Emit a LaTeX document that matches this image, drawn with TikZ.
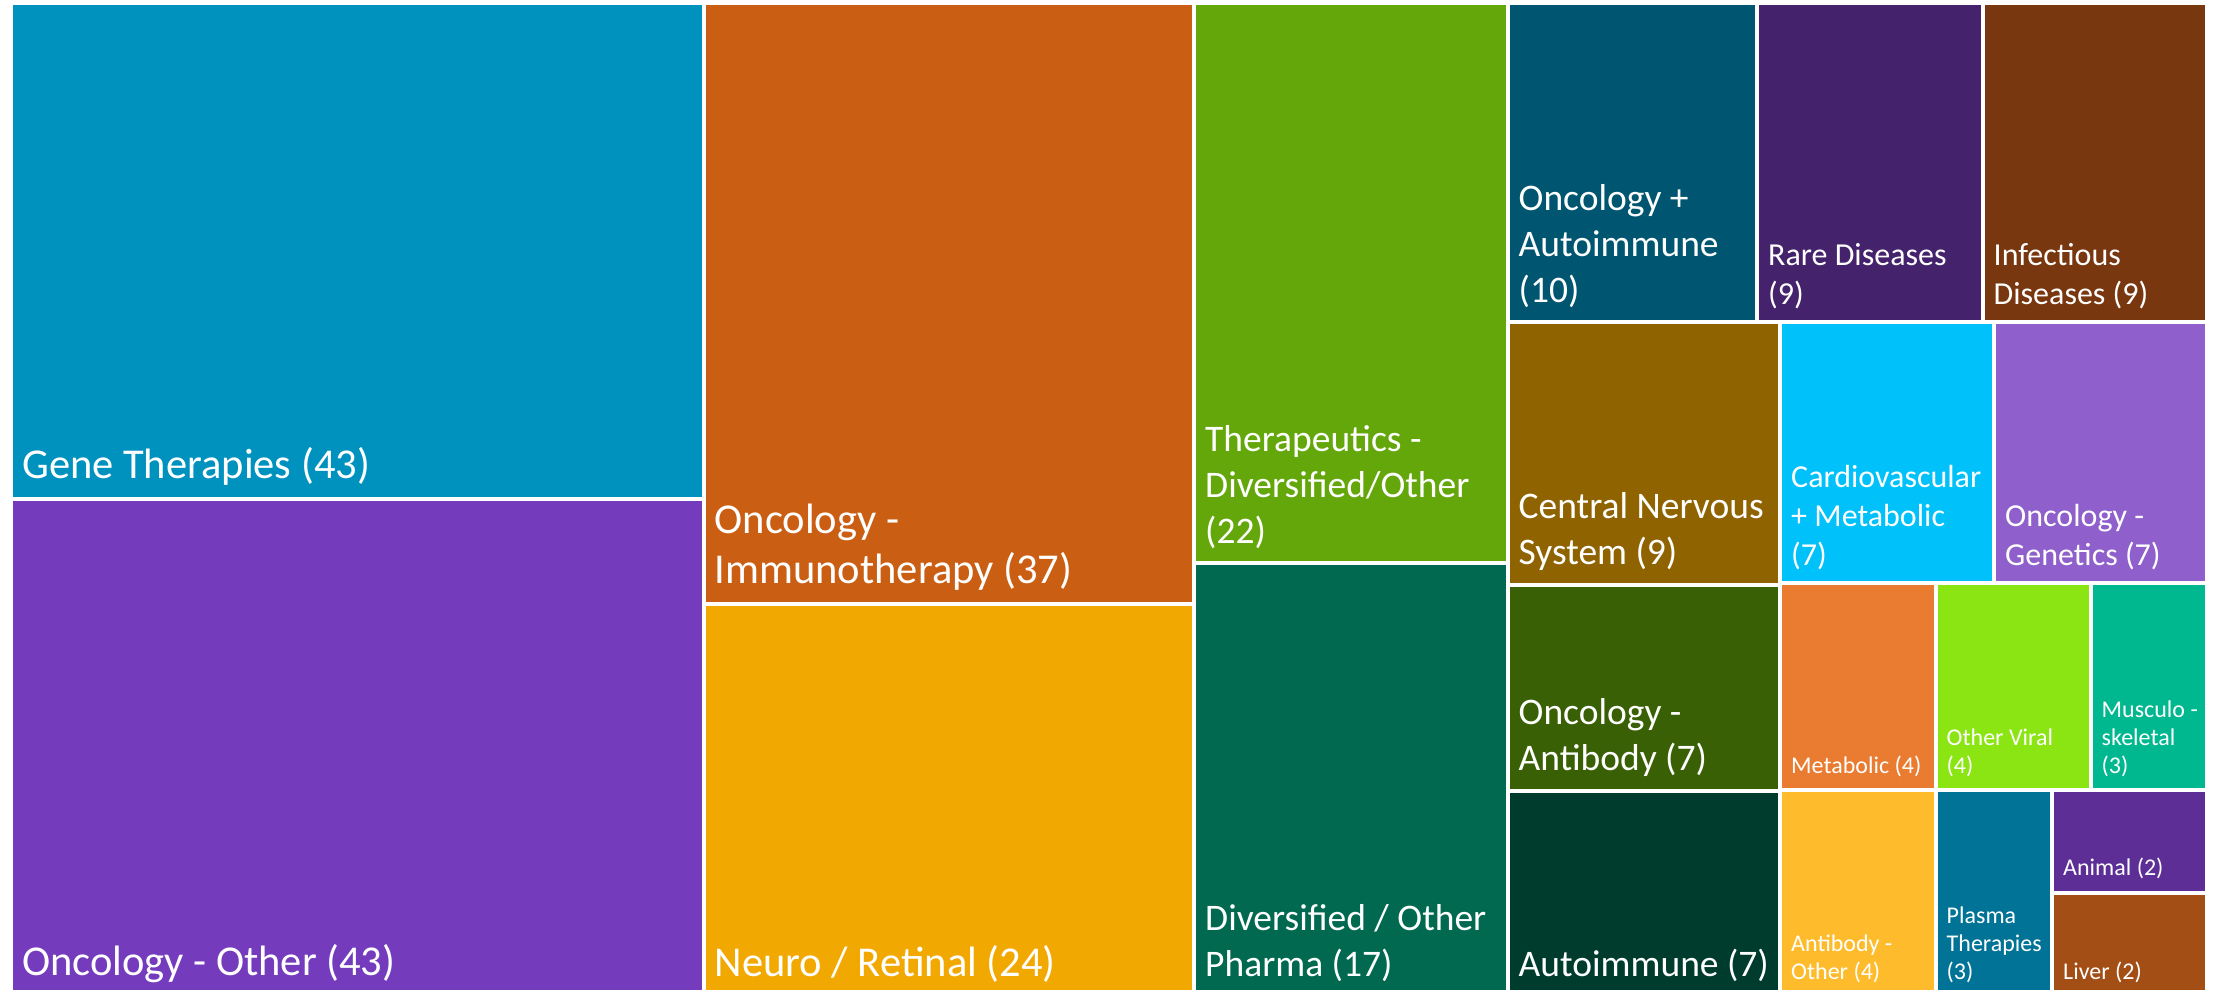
\documentclass[tikz,border=0pt]{standalone}
\usepackage{fontspec}
\setmainfont{Carlito}
\usetikzlibrary{positioning}

\definecolor{cGene}{HTML}{0092BF}
\definecolor{cOncOther}{HTML}{753BBD}
\definecolor{cImmuno}{HTML}{CA5F14}
\definecolor{cNeuro}{HTML}{F1A800}
\definecolor{cThera}{HTML}{64A70B}
\definecolor{cPharma}{HTML}{00694F}
\definecolor{cOncAuto}{HTML}{005670}
\definecolor{cRare}{HTML}{45236C}
\definecolor{cInfect}{HTML}{793710}
\definecolor{cCNS}{HTML}{8F6400}
\definecolor{cCardio}{HTML}{00C1F9}
\definecolor{cGenet}{HTML}{8F5FCB}
\definecolor{cAntib}{HTML}{3A6005}
\definecolor{cAutoimm}{HTML}{003C2D}
\definecolor{cMetab}{HTML}{E97C30}
\definecolor{cViral}{HTML}{8AE512}
\definecolor{cMusc}{HTML}{00B88F}
\definecolor{cAbOther}{HTML}{FEBC2C}
\definecolor{cPlasma}{HTML}{007396}
\definecolor{cAnimal}{HTML}{5D2F96}
\definecolor{cLiver}{HTML}{A24E14}

\begin{document}
\begin{tikzpicture}[x=1pt,y=-1pt,
                    cell/.style={draw=white,line width=4pt},
                    lbl/.style={anchor=south west,align=left,text=white,inner xsep=11pt},
                    lblL/.style={lbl,font=\fontsize{42.5}{50}\selectfont,inner ysep=13pt},
                    lblM/.style={lbl,font=\fontsize{37.5}{46}\selectfont,inner ysep=14pt},
                    lblS/.style={lbl,font=\fontsize{32}{39}\selectfont,inner ysep=13pt},
                    lblXS/.style={lbl,font=\fontsize{24}{28}\selectfont,inner ysep=13pt}]
  \useasboundingbox (0,0) rectangle (2219,989);
  \clip (0,0) rectangle (2219,989);
  \fill[white] (0,0) rectangle (2219,989);

  % big columns
  \path[cell,fill=cGene]     (11,2.5)     rectangle (703.5,498.5);
  \path[cell,fill=cOncOther] (11,498.5)   rectangle (703.5,996);
  \path[cell,fill=cImmuno]   (703.5,2.5)  rectangle (1194,603.8);
  \path[cell,fill=cNeuro]    (703.5,603.8) rectangle (1194,996);
  \path[cell,fill=cThera]    (1194,2.5)   rectangle (1507.5,563);
  \path[cell,fill=cPharma]   (1194,563)   rectangle (1507.5,996);

  \node[lblL] (gene)     at (11,498.5)   {Gene Therapies (43)};
  \node[lblL] (oncother) at (11,996)     {Oncology - Other (43)};
  \node[lblL] (immuno)   at (703.5,603.8) {Oncology -\\Immunotherapy (37)};
  \node[lblL] (neuro)    at (703.5,996)  {Neuro / Retinal (24)};
  \node[lblM] (thera)    at (1194,563)   {Therapeutics -\\Diversified/Other\\(22)};
  \node[lblM] (pharma)   at (1194,996)   {Diversified / Other\\Pharma (17)};

  % top right row
  \path[cell,fill=cOncAuto] (1507.5,2.5) rectangle (1757,322);
  \path[cell,fill=cRare]    (1757,2.5)   rectangle (1982.5,322);
  \path[cell,fill=cInfect]  (1982.5,2.5) rectangle (2207,322);

  \node[lblM] (oncauto) at (1507.5,322) {Oncology +\\Autoimmune\\(10)};
  \node[lblS] (rare)    at (1757,322)   {Rare Diseases\\(9)};
  \node[lblS] (infect)  at (1982.5,322) {Infectious\\Diseases (9)};

  % left column of the small block
  \path[cell,fill=cCNS]      (1507.5,322)   rectangle (1780,585);
  \path[cell,fill=cAntib]    (1507.5,585)   rectangle (1780,790.5);
  \path[cell,fill=cAutoimm]  (1507.5,790.5) rectangle (1780,996);

  \node[lblM] (cns)     at (1507.5,585)   {Central Nervous\\System (9)};
  \node[lblM] (antib)   at (1507.5,790.5) {Oncology -\\Antibody (7)};
  \node[lblM] (autoimm) at (1507.5,996)   {Autoimmune (7)};

  % right part of the small block
  \path[cell,fill=cCardio]   (1780,322)   rectangle (1994,583);
  \path[cell,fill=cGenet]    (1994,322)   rectangle (2207,583);
  \path[cell,fill=cMetab]    (1780,583)   rectangle (1935.5,790);
  \path[cell,fill=cViral]    (1935.5,583) rectangle (2090.5,790);
  \path[cell,fill=cMusc]     (2090.5,583) rectangle (2207,790);
  \path[cell,fill=cAbOther]  (1780,790)   rectangle (1935.5,996);
  \path[cell,fill=cPlasma]   (1935.5,790) rectangle (2052,996);
  \path[cell,fill=cAnimal]   (2052,790)   rectangle (2207,892.5);
  \path[cell,fill=cLiver]    (2052,892.5) rectangle (2207,996);

  \node[lblS]  (cardio)  at (1780,583)   {Cardiovascular\\+ Metabolic\\(7)};
  \node[lblS]  (genet)   at (1994,583)   {Oncology -\\Genetics (7)};
  \node[lblXS] (metab)   at (1780,790)   {Metabolic (4)};
  \node[lblXS] (viral)   at (1935.5,790) {Other Viral\\(4)};
  \node[lblXS] (musc)    at (2090.5,790) {Musculo -\\skeletal\\(3)};
  \node[lblXS] (abother) at (1780,996)   {Antibody -\\Other (4)};
  \node[lblXS] (plasma)  at (1935.5,996) {Plasma\\Therapies\\(3)};
  \node[lblXS] (animal)  at (2052,892.5) {Animal (2)};
  \node[lblXS] (liver)   at (2052,996)   {Liver (2)};
\end{tikzpicture}
\end{document}
